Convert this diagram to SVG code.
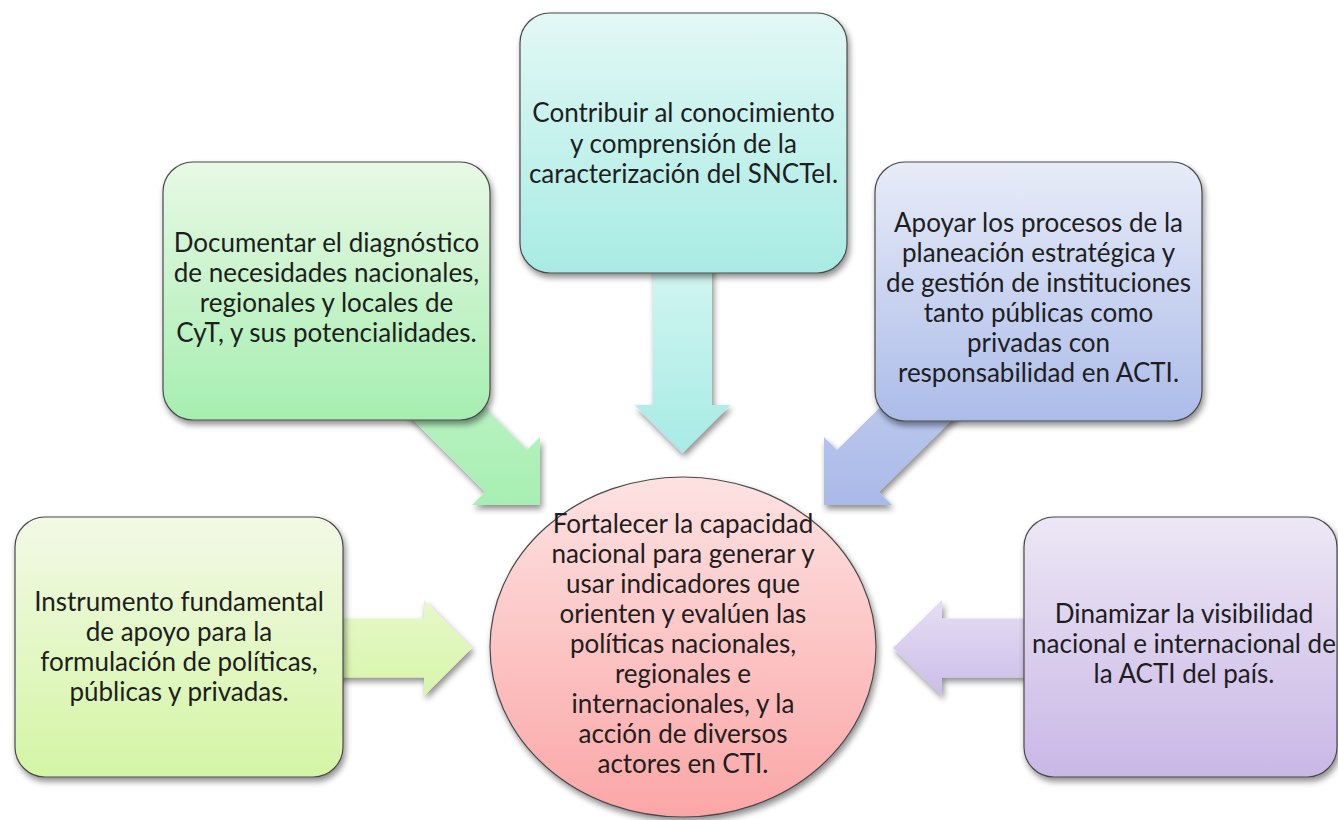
<svg xmlns="http://www.w3.org/2000/svg" width="1338" height="820" viewBox="0 0 1338 820">
<defs>
<filter id="sh" x="-20%" y="-20%" width="140%" height="140%">
<feGaussianBlur in="SourceAlpha" stdDeviation="3"/>
<feOffset dx="2" dy="4" result="b"/>
<feComponentTransfer><feFuncA type="linear" slope="0.45"/></feComponentTransfer>
<feMerge><feMergeNode/><feMergeNode in="SourceGraphic"/></feMerge>
</filter>
<linearGradient id="gCyan" x1="0" y1="0" x2="0" y2="1"><stop offset="0" stop-color="#e2f8f5"/><stop offset="1" stop-color="#a8ebe4"/></linearGradient>
<linearGradient id="gGreen" x1="0" y1="0" x2="0" y2="1"><stop offset="0" stop-color="#e8f9e5"/><stop offset="1" stop-color="#a6eeb0"/></linearGradient>
<linearGradient id="gBlue" x1="0" y1="0" x2="0" y2="1"><stop offset="0" stop-color="#e8ecf8"/><stop offset="1" stop-color="#acbce9"/></linearGradient>
<linearGradient id="gYellow" x1="0" y1="0" x2="0" y2="1"><stop offset="0" stop-color="#f2f9e6"/><stop offset="1" stop-color="#d4f5a4"/></linearGradient>
<linearGradient id="gPurple" x1="0" y1="0" x2="0" y2="1"><stop offset="0" stop-color="#ece7f5"/><stop offset="1" stop-color="#c9b7e6"/></linearGradient>
<linearGradient id="gRed" x1="0" y1="0" x2="0" y2="1"><stop offset="0" stop-color="#fde2e2"/><stop offset="1" stop-color="#fba6a6"/></linearGradient>
<linearGradient id="aCyan" x1="0" y1="0" x2="0" y2="1"><stop offset="0" stop-color="#d2f5f1"/><stop offset="1" stop-color="#a8ebe5"/></linearGradient>
<linearGradient id="aGreen" x1="0" y1="0" x2="0" y2="1"><stop offset="0" stop-color="#bdf4c6"/><stop offset="1" stop-color="#a8eeb2"/></linearGradient>
<linearGradient id="aBlue" x1="0" y1="0" x2="0" y2="1"><stop offset="0" stop-color="#c4d0f0"/><stop offset="1" stop-color="#a9b9e8"/></linearGradient>
<linearGradient id="aYellow" x1="0" y1="0" x2="0" y2="1"><stop offset="0" stop-color="#e6f8c8"/><stop offset="1" stop-color="#d7f5ab"/></linearGradient>
<linearGradient id="aPurple" x1="0" y1="0" x2="0" y2="1"><stop offset="0" stop-color="#e6def4"/><stop offset="1" stop-color="#cbbde8"/></linearGradient>
</defs>
<style>
.box{stroke:#4a4a4a;stroke-width:1.2;filter:url(#sh)}
.arr{filter:url(#sh)}
text{font-family:"Lato","Liberation Sans",sans-serif;font-size:26px;fill:#1e1e1e;text-anchor:middle}
</style>
<rect width="1338" height="820" fill="#ffffff"/>
<g id="connectors">
<polygon class="arr" fill="url(#aCyan)" points="653,260 712,260 712,405 730.5,405 682.5,453 634.5,405 653,405"/>
<polygon class="arr" fill="url(#aGreen)" points="441,364 527,450 540,437 540,505 472,505 485,492 399,406"/>
<polygon class="arr" fill="url(#aBlue)" points="939,349 837,450 824,437 824,505 892,505 879,492 981,391"/>
<polygon class="arr" fill="url(#aYellow)" points="330,618.5 424,618.5 424,600 472,648 424,696 424,677.5 330,677.5"/>
<polygon class="arr" fill="url(#aPurple)" points="1040,618.5 942,618.5 942,600 893,648 942,696 942,677.5 1040,677.5"/>
</g>
<g id="node-top">
<rect class="box" x="520" y="13" width="327" height="260" rx="30" fill="url(#gCyan)"/>
<text x="683.5" y="122">Contribuir al conocimiento</text>
<text x="683.5" y="152.5">y comprensión de la</text>
<text x="683.5" y="183">caracterización del SNCTeI.</text>
</g>
<g id="node-left-top">
<rect class="box" x="163" y="162" width="327" height="258" rx="30" fill="url(#gGreen)"/>
<text x="326.5" y="252">Documentar el diagnóstico</text>
<text x="326.5" y="282">de necesidades nacionales,</text>
<text x="326.5" y="312">regionales y locales de</text>
<text x="326.5" y="342">CyT, y sus potencialidades.</text>
</g>
<g id="node-right-top">
<rect class="box" x="875" y="162" width="327" height="259" rx="30" fill="url(#gBlue)"/>
<text x="1038.5" y="232">Apoyar los procesos de la</text>
<text x="1038.5" y="262">planeación estratégica y</text>
<text x="1038.5" y="292">de gestión de instituciones</text>
<text x="1038.5" y="322">tanto públicas como</text>
<text x="1038.5" y="352">privadas con</text>
<text x="1038.5" y="382">responsabilidad en ACTI.</text>
</g>
<g id="node-left-bottom">
<rect class="box" x="15" y="517" width="328" height="260" rx="30" fill="url(#gYellow)"/>
<text x="179" y="611">Instrumento fundamental</text>
<text x="179" y="641">de apoyo para la</text>
<text x="179" y="671">formulación de políticas,</text>
<text x="179" y="701">públicas y privadas.</text>
</g>
<g id="node-right-bottom">
<rect class="box" x="1024" y="517" width="313" height="260" rx="30" fill="url(#gPurple)"/>
<text x="1184" y="623">Dinamizar la visibilidad</text>
<text x="1184" y="653">nacional e internacional de</text>
<text x="1184" y="683">la ACTI del país.</text>
</g>
<g id="node-center">
<ellipse class="box" cx="683" cy="647" rx="193" ry="170" fill="url(#gRed)"/>
<text x="683" y="533">Fortalecer la capacidad</text>
<text x="683" y="563">nacional para generar y</text>
<text x="683" y="593">usar indicadores que</text>
<text x="683" y="623">orienten y evalúen las</text>
<text x="683" y="653">políticas nacionales,</text>
<text x="683" y="683">regionales e</text>
<text x="683" y="713">internacionales, y la</text>
<text x="683" y="743">acción de diversos</text>
<text x="683" y="773">actores en CTI.</text>
</g>
</svg>
